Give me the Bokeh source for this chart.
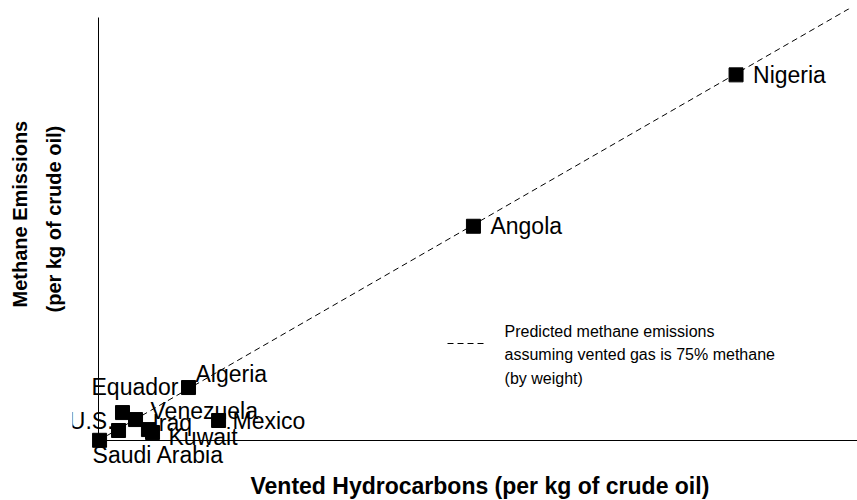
from bokeh.plotting import figure
from bokeh.models import (Range1d, FixedTicker, Legend, LegendItem, ColumnDataSource,
                          LabelSet, LinearAxis, Title, Label)
from bokeh.core.properties import value
from bokeh.embed import file_html
from bokeh.resources import INLINE

# ---- data ----
countries = ["Nigeria", "Angola", "Algeria", "Equador", "Venezuela", "U.S.",
             "Iraq", "Kuwait", "Mexico", "Saudi Arabia"]
vented = [42.0, 24.7, 5.93, 1.58, 2.44, 1.32, 3.29, 3.56, 7.91, 0.07]
methane = [31.4, 18.4, 4.55, 2.40, 1.80, 0.86, 0.94, 0.69, 1.72, 0.02]
methane_fraction = 0.75
model_x = [0.0, 50.0]
model_y = [methane_fraction * v for v in model_x]

x_title = "Vented Hydrocarbons (per kg of crude oil)"
y_title_lines = ["Methane Emissions", "(per kg of crude oil)"]
legend_text = "Predicted methane emissions\nassuming vented gas is 75% methane\n(by weight)"

# label placement (screen px; dy positive = up)
label_dx = [17, 17, 7, 56, 15, -5, 4, 16, 14, -7]
label_dy = [0, 0, 14, 26, 9, 10, 7, -5, -1, -15]
label_align = ["left", "left", "left", "right", "left", "right", "left", "left", "left", "left"]

FONT = "Liberation Sans"

# frame extended left/below the axis lines so that labels near the origin are not clipped
p = figure(width=857, height=500, output_backend="svg", toolbar_location=None,
           x_range=Range1d(-1.713, 50), y_range=Range1d(-2.575, 37.1),
           x_axis_location=None, y_axis_location=None,
           min_border_left=72, min_border_right=0, min_border_top=8, min_border_bottom=30)
p.outline_line_color = None
p.xgrid.visible = False
p.ygrid.visible = False
p.background_fill_color = "white"
p.border_fill_color = "white"

# axis lines through the origin
x_line_axis = LinearAxis(fixed_location=0, bounds=(0, 50), ticker=FixedTicker(ticks=[]),
                         major_tick_line_color=None, minor_tick_line_color=None,
                         major_tick_out=0, major_label_standoff=0,
                         axis_line_color="black", axis_line_width=1)
y_line_axis = LinearAxis(fixed_location=0, bounds=(0, 36.3), ticker=FixedTicker(ticks=[]),
                         major_tick_line_color=None, minor_tick_line_color=None,
                         major_tick_out=0, major_label_standoff=0,
                         axis_line_color="black", axis_line_width=1)
p.add_layout(x_line_axis, "below")
p.add_layout(y_line_axis, "left")

# axis titles
p.add_layout(Title(text=x_title, align="left", offset=178, standoff=0,
                   text_font=FONT, text_font_size="23px", text_font_style="bold",
                   text_color="black"), "below")
p.add_layout(Title(text=y_title_lines[1], align="left", offset=158, standoff=15,
                   text_font=FONT, text_font_size="20px", text_font_style="bold",
                   text_color="black"), "left")
p.add_layout(Title(text=y_title_lines[0], align="left", offset=163, standoff=5,
                   text_font=FONT, text_font_size="20px", text_font_style="bold",
                   text_color="black"), "left")

src = ColumnDataSource(dict(x=vented, y=methane, name=countries,
                            dx=label_dx, dy=label_dy, align=label_align))

model_r = p.line(model_x, model_y, line_color="black", line_width=1, line_dash="6 4")

labels = LabelSet(x="x", y="y", text="name", x_offset="dx", y_offset="dy",
                  text_align="align", text_baseline="middle", text_font=value(FONT),
                  text_font_size="23px", text_color="black", source=src)
p.add_layout(labels)

p.scatter(x="x", y="y", marker="square", size=14, fill_color="black",
          line_color="black", source=src)

# legend: dashed sample + three-line caption
legend = Legend(items=[LegendItem(label=" ", renderers=[model_r])],
                location=(375, 117), border_line_color=None, background_fill_alpha=0,
                label_text_font=FONT, label_text_font_size="16px",
                glyph_width=40, label_standoff=0, padding=0, margin=0)
p.add_layout(legend)
p.add_layout(Label(x=26.75, y=10.13, text=legend_text, text_baseline="top",
                   text_align="left", text_font=FONT, text_font_size="16px",
                   text_line_height=1.4, text_color="black"))

open("out.html", "w").write(file_html(p, INLINE))
